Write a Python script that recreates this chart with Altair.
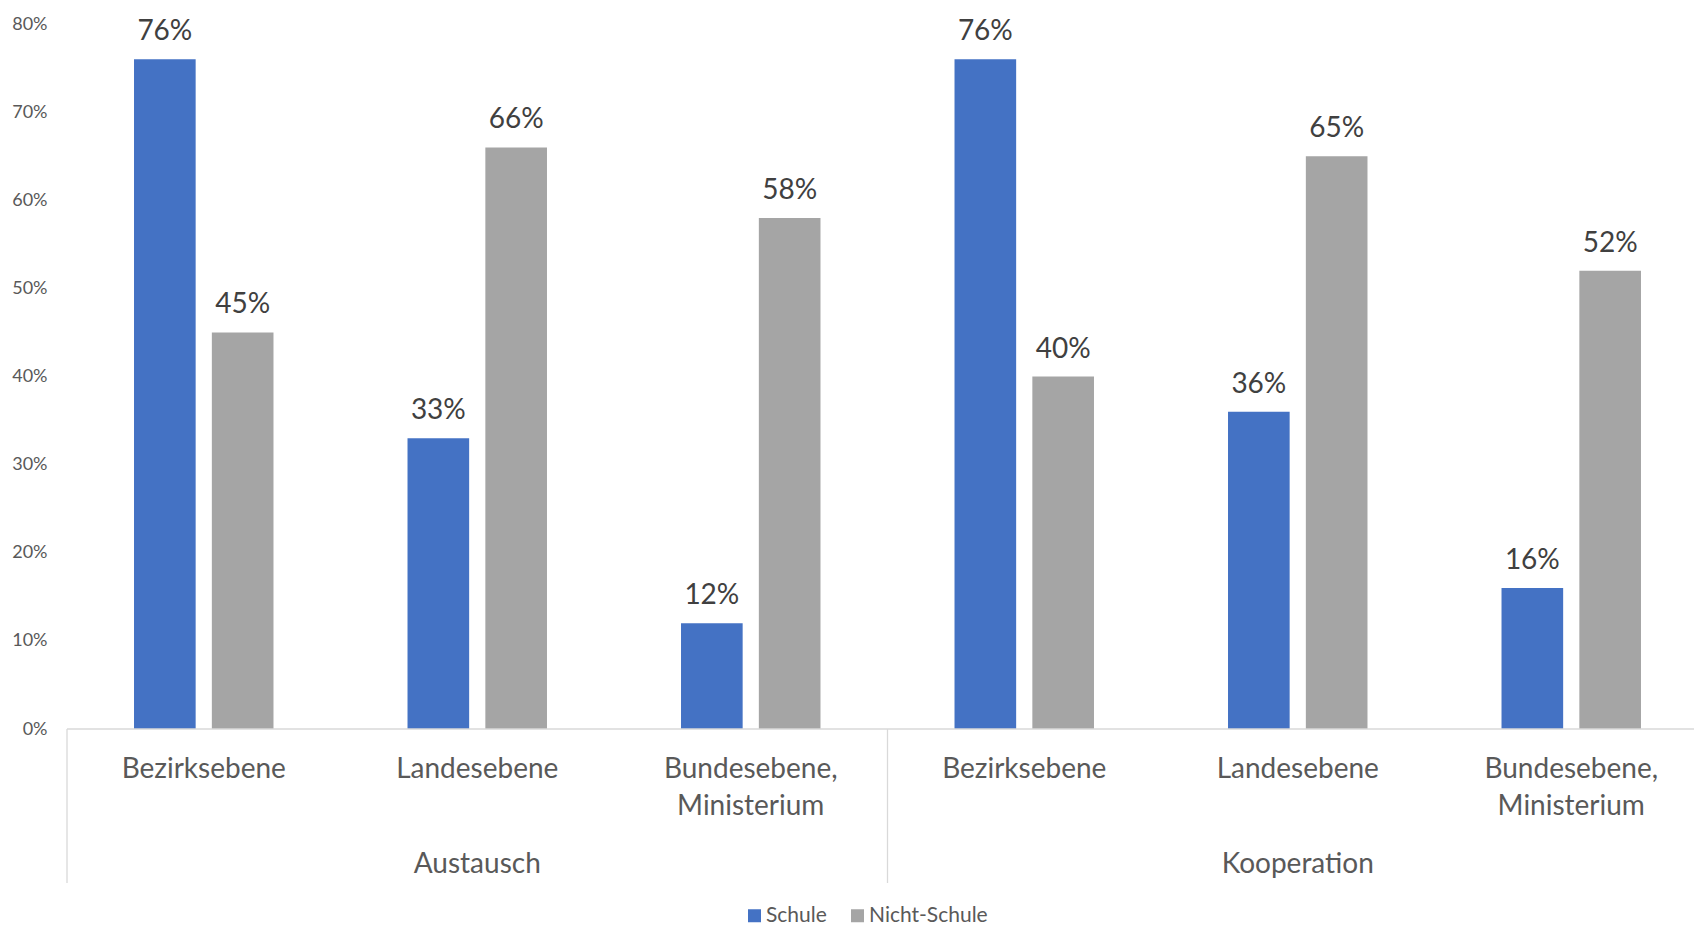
import altair as alt
import pandas as pd

# Chart values
groups = ["Austausch", "Kooperation"]
categories = ["Bezirksebene", "Landesebene", "Bundesebene,\nMinisterium"]
series = ["Schule", "Nicht-Schule"]
schule = [76, 33, 12, 76, 36, 16]
nicht_schule = [45, 66, 58, 40, 65, 52]
colors = ["#4472C4", "#A5A5A5"]
y_ticks = [0, 10, 20, 30, 40, 50, 60, 70, 80]

FONT = "Lato"
PLOT_W = 1627
PLOT_H = 705
BAND_SPAN = 1641  # six category bands; the last one runs past the right edge
LINE_COLOR = "#D9D9D9"

keys = [f"{g}|{c}" for g in groups for c in categories]

rows = []
for i, k in enumerate(keys):
    g, c = k.split("|")
    rows.append({"key": k, "group": g, "category": c, "series": series[0], "value": schule[i]})
    rows.append({"key": k, "group": g, "category": c, "series": series[1], "value": nicht_schule[i]})
df = pd.DataFrame(rows)
df["label"] = df["value"].astype(str) + "%"

cat_df = df[df["series"] == series[0]][["key", "category"]]
group_df = pd.DataFrame({"key": [f"{g}|{categories[1]}" for g in groups], "group": groups})
sep_start = pd.DataFrame({"key": [f"{g}|{categories[0]}" for g in groups]})
sep_end = pd.DataFrame({"key": [keys[-1]]})

x_scale = alt.Scale(domain=keys, range=[0, BAND_SPAN], paddingInner=0, paddingOuter=0)
xoff_scale = alt.Scale(domain=series, paddingInner=0.208, paddingOuter=0.861)
y_scale = alt.Scale(domain=[0, 80], nice=False)

bars = alt.Chart(df).mark_bar().encode(
    x=alt.X("key:N", sort=keys, scale=x_scale, title=None, axis=None),
    xOffset=alt.XOffset("series:N", sort=series, scale=xoff_scale),
    y=alt.Y("value:Q", scale=y_scale, title=None,
            axis=alt.Axis(values=y_ticks, labelExpr="datum.value + '%'", domain=False, ticks=False,
                          grid=False, labelFontSize=18, labelColor="#595959", labelFont=FONT,
                          labelPadding=20)),
    color=alt.Color("series:N", sort=series, scale=alt.Scale(domain=series, range=colors),
                    legend=alt.Legend(orient="none", legendX=677, legendY=881, direction="horizontal",
                                      title=None, symbolType="square", symbolSize=169,
                                      labelFontSize=21, labelColor="#595959", labelFont=FONT,
                                      columnPadding=20, labelOffset=1, padding=0,
                                      symbolStrokeWidth=0)),
)

# baseline along 0 %
baseline = alt.Chart(sep_end).mark_rule(color=LINE_COLOR, strokeWidth=1.3).encode(
    x=alt.value(0),
    x2=alt.value(BAND_SPAN),
    y=alt.datum(0, scale=y_scale),
)

values = alt.Chart(df).mark_text(font=FONT, fontSize=28, color="#404040", baseline="alphabetic",
                                 dy=-19).encode(
    x=alt.X("key:N", sort=keys, scale=x_scale, axis=None),
    xOffset=alt.XOffset("series:N", sort=series, scale=xoff_scale),
    y=alt.Y("value:Q", scale=y_scale),
    text="label:N",
)

cat_labels = alt.Chart(cat_df).mark_text(font=FONT, fontSize=28, color="#595959",
                                         baseline="alphabetic", lineBreak="\n",
                                         lineHeight=37).encode(
    x=alt.X("key:N", sort=keys, scale=x_scale, axis=None),
    y=alt.value(754),
    text="category:N",
)

group_labels = alt.Chart(group_df).mark_text(font=FONT, fontSize=28, color="#595959",
                                             baseline="alphabetic").encode(
    x=alt.X("key:N", sort=keys, scale=x_scale, axis=None),
    y=alt.value(849),
    text="group:N",
)

sep_a = alt.Chart(sep_start).mark_rule(color=LINE_COLOR, strokeWidth=1.3).encode(
    x=alt.X("key:N", sort=keys, scale=x_scale, axis=None, bandPosition=0),
    y=alt.value(PLOT_H),
    y2=alt.value(859),
)
sep_b = alt.Chart(sep_end).mark_rule(color=LINE_COLOR, strokeWidth=1.3).encode(
    x=alt.X("key:N", sort=keys, scale=x_scale, axis=None, bandPosition=1),
    y=alt.value(PLOT_H),
    y2=alt.value(859),
)

chart = alt.layer(bars, baseline, values, cat_labels, group_labels, sep_a, sep_b).properties(
    width=PLOT_W,
    height=PLOT_H,
    autosize=alt.AutoSizeParams(type="none"),
    padding={"left": 67, "top": 24, "right": 0, "bottom": 198},
    background="white",
).configure(font=FONT).configure_view(stroke=None)

chart.save("out.html", embed_options={"renderer": "svg", "actions": False})
